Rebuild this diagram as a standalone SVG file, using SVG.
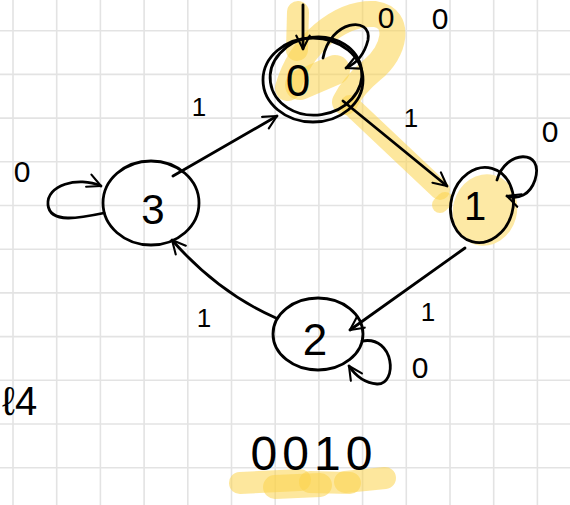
<svg xmlns="http://www.w3.org/2000/svg" width="570" height="505" viewBox="0 0 570 505">
<style>
.grid line{stroke:#e3e3e3;stroke-width:1.6}
.hl{fill:none;stroke:#fcd34d;stroke-opacity:0.55;stroke-linecap:round;stroke-linejoin:round}
.ink{fill:none;stroke:#000;stroke-width:2.8;stroke-linecap:round;stroke-linejoin:round}
.lbl{font-family:"Liberation Sans",Arial,sans-serif;fill:#000}
</style>
<defs>
<marker id="ah" viewBox="0 0 12 12" refX="11" refY="6" markerWidth="16" markerHeight="16" markerUnits="userSpaceOnUse" orient="auto">
<path d="M1,1 L11,6 L1,11" fill="none" stroke="#000" stroke-width="1.6" stroke-linecap="round" stroke-linejoin="round"/>
</marker>
</defs>
<rect width="570" height="505" fill="#fff"/>
<g class="grid">
<line x1="13" y1="0" x2="13" y2="505"/><line x1="56.7" y1="0" x2="56.7" y2="505"/><line x1="100.4" y1="0" x2="100.4" y2="505"/><line x1="144.1" y1="0" x2="144.1" y2="505"/><line x1="187.8" y1="0" x2="187.8" y2="505"/><line x1="231.5" y1="0" x2="231.5" y2="505"/><line x1="275.2" y1="0" x2="275.2" y2="505"/><line x1="318.9" y1="0" x2="318.9" y2="505"/><line x1="362.6" y1="0" x2="362.6" y2="505"/><line x1="406.3" y1="0" x2="406.3" y2="505"/><line x1="450" y1="0" x2="450" y2="505"/><line x1="493.7" y1="0" x2="493.7" y2="505"/><line x1="537.4" y1="0" x2="537.4" y2="505"/>
<line x1="0" y1="30.7" x2="570" y2="30.7"/><line x1="0" y1="74.4" x2="570" y2="74.4"/><line x1="0" y1="118.1" x2="570" y2="118.1"/><line x1="0" y1="161.8" x2="570" y2="161.8"/><line x1="0" y1="205.5" x2="570" y2="205.5"/><line x1="0" y1="249.2" x2="570" y2="249.2"/><line x1="0" y1="292.9" x2="570" y2="292.9"/><line x1="0" y1="336.6" x2="570" y2="336.6"/><line x1="0" y1="380.3" x2="570" y2="380.3"/><line x1="0" y1="424" x2="570" y2="424"/><line x1="0" y1="467.7" x2="570" y2="467.7"/>
</g>
<g id="highlights">
<path class="hl" stroke-width="22" d="M298 12 L297 50"/>
<path class="hl" stroke-width="26" d="M288 88 C300 45 340 12 375 14 C402 18 395 52 372 70 C360 80 350 92 345 102"/>
<path class="hl" stroke-width="30" d="M300 85 L335 70"/>
<path class="hl" stroke-width="20" d="M350 105 L440 190"/>
<path class="hl" stroke-width="16" d="M445 200 L440 205"/>
<ellipse cx="485" cy="210" rx="32" ry="36" transform="rotate(15 485 210)" fill="#fde9a5"/>
<path class="hl" stroke-width="22" d="M240 483 L300 480"/>
<path class="hl" stroke-width="24" d="M275 487 L320 485"/>
<path class="hl" stroke-width="22" d="M310 482 L350 483"/>
<path class="hl" stroke-width="22" d="M345 482 L385 478"/>
</g>
<g id="edges">
<path class="ink" d="M303 5 L303 49" marker-end="url(#ah)"/>
<path class="ink" d="M173 176 L277 116" marker-end="url(#ah)"/>
<path class="ink" d="M343 101 L447 186" marker-end="url(#ah)"/>
<path class="ink" d="M465 248 L350 330" marker-end="url(#ah)"/>
<path class="ink" d="M276 318 C235 300 200 272 172 240" marker-end="url(#ah)"/>
<path class="ink" d="M323 58 C330 20 372 15 368 40 C364 56 355 64 346 68" marker-end="url(#ah)"/>
<path class="ink" d="M497 180 C505 150 545 148 535 180 C530 195 518 200 507 196" marker-end="url(#ah)"/>
<path class="ink" d="M362 341 C395 335 398 385 377 384 C364 383 355 375 349 366" marker-end="url(#ah)"/>
<path class="ink" d="M104 213 C80 218 50 224 48 205 C46 185 78 176 101 186" marker-end="url(#ah)"/>
</g>
<g id="node0">
<ellipse class="ink" cx="313" cy="80" rx="50" ry="42"/>
<ellipse class="ink" cx="316" cy="76" rx="46" ry="39" transform="rotate(-8 316 76)"/>
<text class="lbl" x="298" y="96" font-size="44" text-anchor="middle">0</text>
</g>
<g id="node1">
<ellipse class="ink" cx="482" cy="205" rx="31" ry="38" transform="rotate(15 482 205)"/>
<text class="lbl" x="475" y="220" font-size="40" text-anchor="middle">1</text>
</g>
<g id="node2">
<ellipse class="ink" cx="318" cy="334" rx="45" ry="36"/>
<text class="lbl" x="315" y="355" font-size="44" text-anchor="middle">2</text>
</g>
<g id="node3">
<ellipse class="ink" cx="151" cy="203" rx="48" ry="42"/>
<text class="lbl" x="153" y="224" font-size="42" text-anchor="middle">3</text>
</g>
<g id="labels" class="lbl">
<text x="386" y="28" font-size="30" text-anchor="middle">0</text>
<text x="440" y="29" font-size="30" text-anchor="middle">0</text>
<text x="550" y="142" font-size="30" text-anchor="middle">0</text>
<text x="22" y="182" font-size="30" text-anchor="middle">0</text>
<text x="420" y="378" font-size="30" text-anchor="middle">0</text>
<text x="199" y="116" font-size="26" text-anchor="middle">1</text>
<text x="411" y="127" font-size="26" text-anchor="middle">1</text>
<text x="428" y="321" font-size="26" text-anchor="middle">1</text>
<text x="204" y="327" font-size="26" text-anchor="middle">1</text>
<text x="2" y="415" font-size="40">ℓ4</text>
<text x="314" y="470" font-size="48" text-anchor="middle" letter-spacing="5">0010</text>
</g>
</svg>
